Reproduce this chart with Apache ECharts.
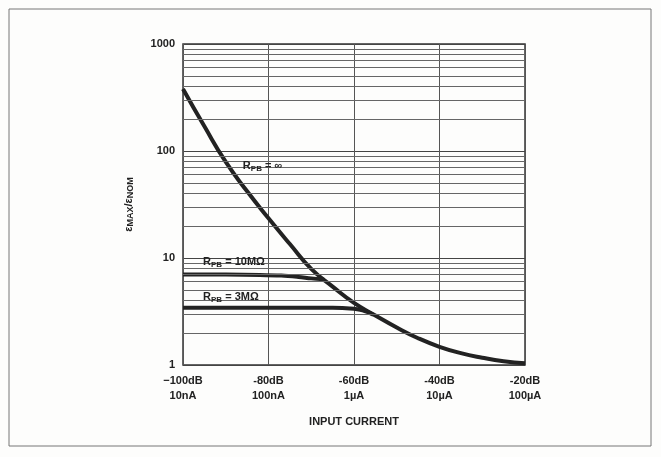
<!DOCTYPE html>
<html>
<head>
<meta charset="utf-8">
<script src="https://cdn.jsdelivr.net/npm/echarts@6/dist/echarts.min.js"></script>
<style>
    html, body { margin: 0; padding: 0; background: #fdfdfc; }
    #chart { width: 661px; height: 457px; }
</style>
</head>
<body>
<div id="chart"></div>
<script>
// ======================== 数据 ========================
// x 轴刻度（dB 与对应电流）
var dbTicks = [-100, -80, -60, -40, -20];
var currentLabels = ['10nA', '100nA', '1µA', '10µA', '100µA'];

// R_PB = ∞ 主曲线
var dbInf  = [-100, -95, -90, -85, -80, -75, -70, -65, -60, -55, -50, -45, -40, -35, -30, -25, -20];
var epsInf = [380, 170, 79, 42, 23.5, 13.5, 7.9, 5.4, 3.8, 2.9, 2.24, 1.78, 1.48, 1.29, 1.17, 1.085, 1.04];

// R_PB = 10MΩ
var db10M  = [-100, -90, -82, -77, -73, -70, -67];
var eps10M = [7.0, 7.0, 6.95, 6.85, 6.65, 6.45, 6.3];

// R_PB = 3MΩ
var db3M  = [-100, -80, -65, -61, -58, -55.5];
var eps3M = [3.43, 3.43, 3.42, 3.38, 3.25, 2.95];

// 对数网格次分线
var minorGrid = [2, 3, 4, 5, 6, 7, 8, 9, 20, 30, 40, 50, 60, 70, 80, 90, 200, 300, 400, 500, 600, 700, 800, 900];

// 曲线标注位置 [dB, 值]
var labelInf = [-86, 72];
var label10M = [-95.3, 9.1];
var label3M  = [-95.3, 4.3];

// ======================================================

function zip(xs, ys) {
    var out = [];
    for (var i = 0; i < xs.length; i++) {
        out.push([xs[i], ys[i]]);
    }
    return out;
}

var ink = '#222';
var labelRich = {
    r: { fontSize: 11, fontWeight: 'bold', color: ink, fontFamily: 'Liberation Sans' },
    s: { fontSize: 8, fontWeight: 'bold', color: ink, fontFamily: 'Liberation Sans', padding: [5, 0, 0, 0] }
};

function curveLabel(coord, text) {
    return {
        symbol: 'circle',
        symbolSize: 0,
        silent: true,
        label: {
            show: true,
            position: 'right',
            distance: 0,
            formatter: text,
            rich: labelRich
        },
        data: [{ coord: coord }]
    };
}

var myChart = echarts.init(document.getElementById('chart'));

var option = {
    backgroundColor: '#fdfdfc',
    animation: false,
    graphic: [
        {   // 外框
            type: 'rect',
            shape: { x: 9, y: 9, width: 642, height: 437 },
            style: { fill: 'none', stroke: '#777', lineWidth: 1 }
        }
    ],
    grid: {
        left: 183, right: 136, top: 44, bottom: 92,
        show: true,
        borderColor: '#333',
        borderWidth: 1.5
    },
    xAxis: {
        type: 'value',
        min: -100,
        max: -20,
        interval: 20,
        axisLine: { show: false },
        axisTick: { show: false },
        splitLine: { show: true, lineStyle: { color: '#555', width: 1 } },
        axisLabel: {
            margin: 8,
            lineHeight: 15,
            color: ink,
            fontSize: 11,
            fontWeight: 'bold',
            fontFamily: 'Liberation Sans',
            formatter: function (v) {
                var i = dbTicks.indexOf(v);
                return (v === -100 ? '−' : '-') + Math.abs(v) + 'dB\n' + currentLabels[i];
            }
        },
        name: 'INPUT CURRENT',
        nameLocation: 'middle',
        nameGap: 51,
        nameTextStyle: { color: ink, fontSize: 11, fontWeight: 'bold', fontFamily: 'Liberation Sans' }
    },
    yAxis: {
        type: 'log',
        logBase: 10,
        min: 1,
        max: 1000,
        axisLine: { show: false },
        axisTick: { show: false },
        splitLine: { show: true, lineStyle: { color: '#444', width: 1.2 } },
        axisLabel: {
            margin: 8,
            color: ink,
            fontSize: 11,
            fontWeight: 'bold',
            fontFamily: 'Liberation Sans',
            formatter: function (v) { return String(Math.round(v)); }
        },
        name: '{e|ε}{s|MAX}{e|/ε}{s|NOM}',
        nameLocation: 'middle',
        nameRotate: 90,
        nameGap: 48,
        nameTextStyle: {
            rich: {
                e: { fontSize: 11, fontWeight: 'bold', color: ink, fontFamily: 'Liberation Sans' },
                s: { fontSize: 9, fontWeight: 'bold', color: ink, fontFamily: 'Liberation Sans', padding: [4, 0, 0, 0] }
            }
        }
    },
    series: [
        {   // 次网格线
            type: 'line',
            data: [],
            silent: true,
            markLine: {
                silent: true,
                symbol: 'none',
                label: { show: false },
                lineStyle: { color: '#666', width: 1, type: 'solid' },
                data: minorGrid.map(function (v) { return { yAxis: v }; })
            }
        },
        {
            name: 'inf',
            type: 'line',
            data: zip(dbInf, epsInf),
            smooth: 0.5,
            showSymbol: false,
            lineStyle: { color: ink, width: 4 },
            markPoint: curveLabel(labelInf, '{r|R}{s|PB}{r| = ∞}')
        },
        {
            name: '10M',
            type: 'line',
            data: zip(db10M, eps10M),
            smooth: 0.35,
            showSymbol: false,
            lineStyle: { color: ink, width: 4 },
            markPoint: curveLabel(label10M, '{r|R}{s|PB}{r| = 10MΩ}')
        },
        {
            name: '3M',
            type: 'line',
            data: zip(db3M, eps3M),
            smooth: 0.35,
            showSymbol: false,
            lineStyle: { color: ink, width: 4 },
            markPoint: curveLabel(label3M, '{r|R}{s|PB}{r| = 3MΩ}')
        }
    ]
};

myChart.setOption(option);
</script>
</body>
</html>
